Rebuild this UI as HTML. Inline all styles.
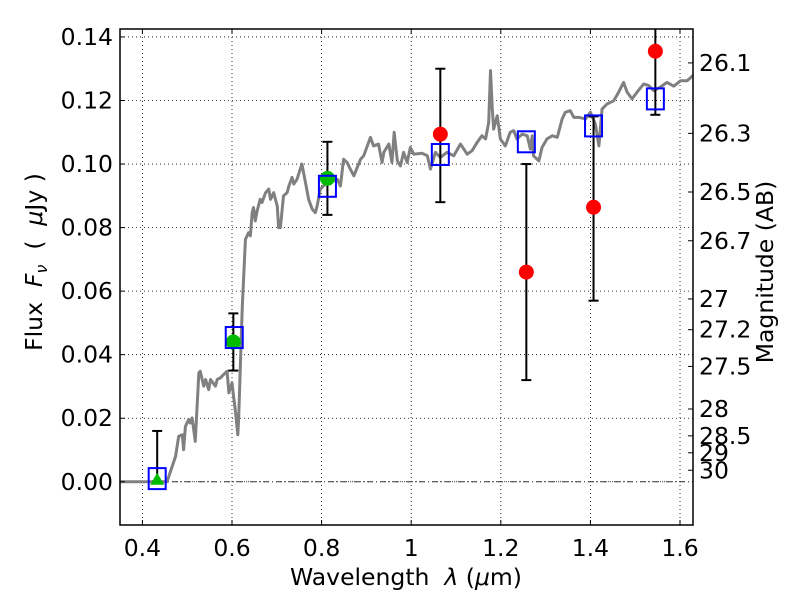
<!DOCTYPE html>
<html><head><meta charset="utf-8"><style>
html,body{margin:0;padding:0;background:#fff}
svg text{font-family:"DejaVu Sans","Liberation Sans",sans-serif;fill:#000}
</style></head><body>
<svg id="chart" width="800" height="600" viewBox="0 0 800 600" xmlns="http://www.w3.org/2000/svg">
<rect width="800" height="600" fill="#fff"/>
<defs><clipPath id="clip"><rect x="120" y="29" width="573" height="496"/></clipPath></defs>
<g id="grid"></g>
<g id="plot" clip-path="url(#clip)"></g>
<g id="axes"></g>
</svg>
<script>
const xTicks=[0.4,0.6,0.8,1.0,1.2,1.4,1.6];
const xTickLabels=["0.4","0.6","0.8","1","1.2","1.4","1.6"];
const yTicks=[0,0.02,0.04,0.06,0.08,0.10,0.12,0.14];
const yTickLabels=["0.00","0.02","0.04","0.06","0.08","0.10","0.12","0.14"];
const magTicks=[26.1,26.3,26.5,26.7,27,27.2,27.5,28,28.5,29,30];
const magTickLabels=["26.1","26.3","26.5","26.7","27","27.2","27.5","28","28.5","29","30"];
const specWave=[0.35,0.455,0.474,0.481,0.489,0.492,0.496,0.503,0.507,0.511,0.518,0.526,0.529,0.537,0.541,0.548,0.552,0.563,0.567,0.574,0.581,0.589,0.593,0.600,0.608,0.613,0.615,0.623,0.630,0.637,0.641,0.645,0.648,0.652,0.656,0.663,0.667,0.675,0.682,0.686,0.693,0.701,0.704,0.708,0.715,0.723,0.727,0.734,0.738,0.745,0.756,0.764,0.771,0.779,0.786,0.790,0.797,0.812,0.835,0.842,0.849,0.857,0.864,0.872,0.887,0.894,0.909,0.916,0.927,0.935,0.939,0.950,0.957,0.962,0.969,0.976,0.983,0.991,0.998,1.006,1.024,1.036,1.043,1.054,1.065,1.080,1.095,1.110,1.125,1.136,1.147,1.158,1.166,1.173,1.177,1.181,1.184,1.192,1.199,1.210,1.221,1.229,1.236,1.248,1.259,1.266,1.270,1.273,1.285,1.292,1.303,1.315,1.326,1.337,1.344,1.355,1.363,1.374,1.389,1.400,1.411,1.419,1.426,1.437,1.452,1.463,1.474,1.482,1.493,1.504,1.519,1.530,1.541,1.556,1.571,1.586,1.601,1.616,1.630];
const specFlux=[0,0,0.008,0.0143,0.0148,0.0101,0.0174,0.0196,0.0185,0.0201,0.0127,0.0343,0.0348,0.0301,0.0322,0.0290,0.0322,0.0301,0.0322,0.0327,0.0337,0.0348,0.0280,0.0311,0.0217,0.0148,0.0206,0.0553,0.0763,0.0784,0.0774,0.0847,0.0863,0.0821,0.0852,0.0889,0.0879,0.0910,0.0921,0.0889,0.0910,0.0868,0.0800,0.0800,0.0900,0.0910,0.0931,0.0958,0.0937,0.0952,0.1000,0.0942,0.0889,0.0858,0.0847,0.0868,0.0921,0.0942,0.0952,0.0931,0.1015,0.1005,0.0984,0.0963,0.1015,0.1026,0.1084,0.1057,0.1063,0.1005,0.1037,0.1063,0.1005,0.1100,0.1010,0.0994,0.1037,0.1005,0.1052,0.1031,0.1034,0.1026,0.0984,0.1037,0.1021,0.1037,0.1026,0.1063,0.1031,0.1042,0.1068,0.1089,0.1079,0.1131,0.1294,0.1173,0.1110,0.1152,0.1079,0.1057,0.1100,0.1105,0.1079,0.1094,0.1089,0.1047,0.1089,0.1026,0.1010,0.1052,0.1079,0.1089,0.1084,0.1142,0.1163,0.1168,0.1147,0.1147,0.1142,0.1163,0.1126,0.1057,0.1173,0.1189,0.1199,0.1226,0.1257,0.1226,0.1205,0.1226,0.1252,0.1247,0.1231,0.1242,0.1257,0.1245,0.1262,0.1262,0.1280];
const modelWave=[0.433,0.605,0.813,1.065,1.257,1.407,1.545];
const modelFlux=[0.001,0.0454,0.093,0.103,0.107,0.112,0.1205];
const obsWave=[0.433,0.603,0.813,1.065,1.257,1.407,1.545];
const obsFlux=[0,0.044,0.0955,0.1094,0.066,0.0864,0.1355];
const obsErrLow=[0,0.035,0.084,0.088,0.032,0.057,0.1155];
const obsErrHigh=[0.016,0.053,0.107,0.130,0.100,0.115,0.150];
const obsKind=["upper","green","green","red","red","red","red"];

const X0=0.35,X1=1.629,Y0=-0.0136,Y1=0.1425;
const PL=120,PR=693,PT=29,PB=525;
const sx=v=>PL+(v-X0)/(X1-X0)*(PR-PL);
const sy=v=>PB-(v-Y0)/(Y1-Y0)*(PB-PT);
const magToFlux=m=>Math.pow(10,(23.9-m)/2.5);
const NS="http://www.w3.org/2000/svg";
const FS=23.5;
function mk(parent,tag,attrs){const e=document.createElementNS(NS,tag);for(const k in attrs)e.setAttribute(k,attrs[k]);parent.appendChild(e);return e;}
const grid=document.getElementById('grid'),plot=document.getElementById('plot'),axes=document.getElementById('axes');

xTicks.forEach((t,i)=>{const x=sx(t);
 const g=mk(grid,'line',{x1:x,x2:x,y1:PT,y2:PB,stroke:'#000','stroke-width':0.8,'stroke-dasharray':'1,3'});
 
 
 mk(axes,'line',{x1:x,x2:x,y1:PB,y2:PB-5,stroke:'#000'});
 mk(axes,'line',{x1:x,x2:x,y1:PT,y2:PT+5,stroke:'#000'});
 const tx=mk(axes,'text',{x:x,y:PB+31,'font-size':FS,'text-anchor':'middle'});tx.textContent=xTickLabels[i];
 
 
});
yTicks.forEach((t,i)=>{const y=sy(t);
 const g=mk(grid,'line',{x1:PL,x2:PR,y1:y,y2:y,stroke:'#000','stroke-width':0.8,'stroke-dasharray':'1,3'});
 
 
 mk(axes,'line',{x1:PL,x2:PL+5,y1:y,y2:y,stroke:'#000'});
 const tx=mk(axes,'text',{x:PL-7,y:y+8,'font-size':FS,'text-anchor':'end'});tx.textContent=yTickLabels[i];
 
 
});
magTicks.forEach((m,i)=>{const y=sy(magToFlux(m));
 mk(axes,'line',{x1:PR,x2:PR-5,y1:y,y2:y,stroke:'#000'});
 const tx=mk(axes,'text',{x:PR+6,y:y+8,'font-size':FS});tx.textContent=magTickLabels[i];
 
 
});
const zl=mk(plot,'line',{x1:PL,x2:PR,y1:sy(0),y2:sy(0),stroke:'#333','stroke-width':1,'stroke-dasharray':'6,3,1,3'});


const sp=mk(plot,'polyline',{points:specWave.map((w,i)=>sx(w)+','+sy(specFlux[i])).join(' '),fill:'none',stroke:'#808080','stroke-width':3,'stroke-linejoin':'round'});


obsWave.forEach((w,i)=>{const x=sx(w);
 const e=mk(plot,'line',{x1:x,x2:x,y1:sy(obsErrLow[i]),y2:sy(obsErrHigh[i]),stroke:'#000','stroke-width':2});
 
 
 [obsErrLow[i],obsErrHigh[i]].forEach(v=>mk(plot,'line',{x1:x-5,x2:x+5,y1:sy(v),y2:sy(v),stroke:'#000','stroke-width':2}));
});
obsWave.forEach((w,i)=>{const x=sx(w),y=sy(obsFlux[i]);let m;
 if(obsKind[i]==='upper'){m=mk(plot,'polygon',{points:`${x},${y-9} ${x-7},${y+3} ${x+7},${y+3}`,fill:'#00bb00'});}
 else m=mk(plot,'circle',{cx:x,cy:y,r:7.5,fill:obsKind[i]==='red'?'#ff0000':'#00bb00'});
 
 
});
modelWave.forEach((w,i)=>{const x=sx(w),y=sy(modelFlux[i]);
 const r=mk(plot,'rect',{x:x-8.5,y:y-10.5,width:17,height:21,fill:'none',stroke:'#0000ff','stroke-width':2});
 
 
});
const fr=mk(axes,'rect',{x:PL,y:PT,width:PR-PL,height:PB-PT,fill:'none',stroke:'#000','stroke-width':1.5});


</script>
<svg style="position:absolute;left:0;top:0" width="800" height="600">
<text x="406" y="585" font-size="23.5" text-anchor="middle" font-family="DejaVu Sans, Liberation Sans, sans-serif" xml:space="preserve">Wavelength&#160;&#160;<tspan font-style="italic">λ</tspan> (<tspan font-style="italic">μ</tspan>m)</text>
<text transform="translate(42,262) rotate(-90)" font-size="23.5" text-anchor="middle" font-family="DejaVu Sans, Liberation Sans, sans-serif" xml:space="preserve">Flux&#160;&#160;<tspan font-style="italic">F</tspan><tspan font-style="italic" font-size="16" dy="5">ν</tspan><tspan dy="-5">&#160;&#160;(&#160;&#160;</tspan><tspan font-style="italic">μ</tspan>Jy )</text>
<text transform="translate(773,272) rotate(-90)" font-size="23.5" text-anchor="middle" font-family="DejaVu Sans, Liberation Sans, sans-serif">Magnitude (AB)</text>
</svg>
</body></html>
